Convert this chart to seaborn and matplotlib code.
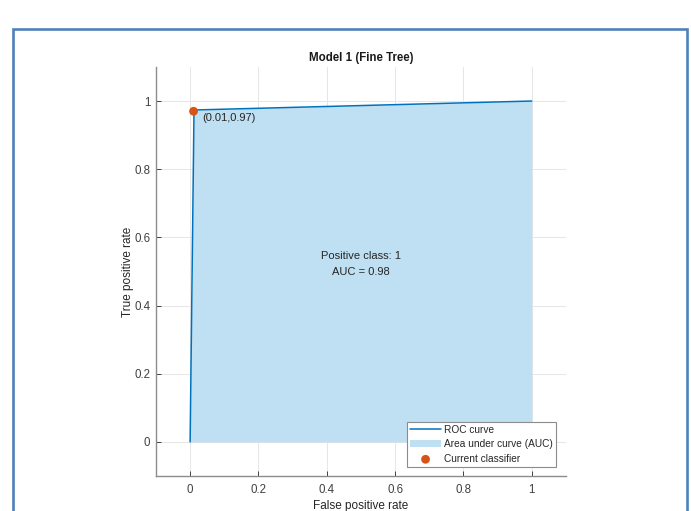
import matplotlib
matplotlib.use("Agg")
import matplotlib.pyplot as plt
from matplotlib.patches import Rectangle
import seaborn as sns
import pandas as pd

# ROC curve of the fine tree model
fpr = [0.0, 0.0114, 1.0]
tpr = [0.0, 0.9737, 1.0]
op_fpr = [0.01]
op_tpr = [0.97]
auc_value = 0.98
positive_class = 1
ticks = [0, 0.2, 0.4, 0.6, 0.8, 1]
tick_labels = ["0", "0.2", "0.4", "0.6", "0.8", "1"]

sns.set_style("ticks")
plt.rcParams["font.family"] = ["Liberation Sans", "DejaVu Sans"]

line_color = "#0072BD"
fill_color = "#BFDFF2"
dot_color = "#D95319"
axis_color = "#404040"

roc = pd.DataFrame({"fpr": fpr, "tpr": tpr})
op = pd.DataFrame({"fpr": op_fpr, "tpr": op_tpr})

fig = plt.figure(figsize=(6.91, 5.11), dpi=100)
ax = fig.add_axes([0.2257, 0.0685, 0.5933, 0.8005])

ax.fill_between(roc["fpr"], roc["tpr"], 0, color=fill_color, linewidth=0,
                label="Area under curve (AUC)", zorder=1)
sns.lineplot(data=roc, x="fpr", y="tpr", ax=ax, color=line_color, linewidth=1.1,
             label="ROC curve", sort=False, estimator=None, zorder=2)
sns.scatterplot(data=op, x="fpr", y="tpr", ax=ax, color=dot_color, s=40,
                edgecolor="none", label="Current classifier", zorder=3)

ax.annotate(f"({op_fpr[0]:.2f},{op_tpr[0]:.2f})", (op_fpr[0], op_tpr[0]),
            xytext=(6, -5), textcoords="offset points", ha="left", va="center",
            fontsize=8, color="#262626")
ax.text(0.5, 0.522, f"Positive class: {positive_class}\nAUC = {auc_value:.2f}",
        ha="center", va="center", fontsize=8, color="#262626", linespacing=1.8)

ax.set_xlim(-0.1, 1.1)
ax.set_ylim(-0.1, 1.1)
ax.set_xticks(ticks)
ax.set_xticklabels(tick_labels)
ax.set_yticks(ticks)
ax.set_yticklabels(tick_labels)
ax.grid(True, color="#E6E6E6", linewidth=0.7)
ax.set_axisbelow(True)
ax.tick_params(direction="in", length=3.5, width=0.7, colors=axis_color,
               labelsize=8.3, labelcolor="#404040", pad=4)
ax.tick_params(axis="x", pad=5.5)
for side in ("top", "right"):
    ax.spines[side].set_visible(False)
for side in ("left", "bottom"):
    ax.spines[side].set_color("#8C8C8C")
    ax.spines[side].set_linewidth(1.0)

ax.set_xlabel("False positive rate", fontsize=8.5, color="#262626", labelpad=3)
ax.set_ylabel("True positive rate", fontsize=8.5, color="#262626", labelpad=0)
ax.set_title("Model 1 (Fine Tree)", fontsize=8.3, fontweight="bold", color="#1A1A1A", pad=4)

handles, labels = ax.get_legend_handles_labels()
order = [labels.index("ROC curve"), labels.index("Area under curve (AUC)"),
         labels.index("Current classifier")]
leg = ax.legend([handles[i] for i in order], [labels[i] for i in order],
                loc="lower right", bbox_to_anchor=(0.976, 0.022), fontsize=7.3,
                frameon=True, fancybox=False, framealpha=1, edgecolor="#8C8C8C",
                borderpad=0.3, labelspacing=0.45, handlelength=3.0,
                handletextpad=0.35, borderaxespad=0)
leg.get_frame().set_linewidth(0.8)

# document frame around the figure
fig.patches.append(Rectangle((0.0188, -0.02), 0.975, 0.963, transform=fig.transFigure,
                             fill=False, edgecolor="#4F81BD", linewidth=1.9))

fig.savefig("out.png", dpi=100)
